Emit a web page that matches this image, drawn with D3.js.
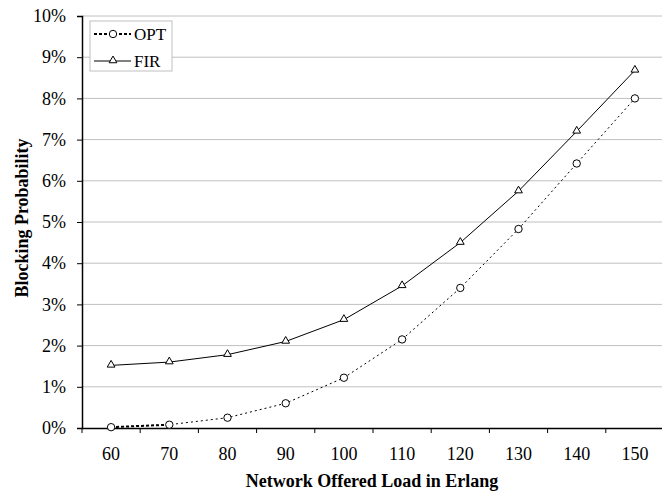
<!DOCTYPE html>
<html>
<head>
<meta charset="utf-8">
<script src="https://cdn.jsdelivr.net/npm/d3@7"></script>
<style>
body { margin: 0; background: #fff; }
svg { display: block; font-family: "Liberation Serif", "Times New Roman", serif; }
</style>
</head>
<body>
<svg id="chart" width="662" height="493"></svg>
<script>
var loads = [60, 70, 80, 90, 100, 110, 120, 130, 140, 150];
var opt = [0.0002, 0.0008, 0.0025, 0.006, 0.0122, 0.0215, 0.034, 0.0483, 0.0642, 0.080];
var fir = [0.0152, 0.016, 0.0178, 0.021, 0.0263, 0.0345, 0.045, 0.0575, 0.072, 0.0868];
var yTicks = d3.range(0, 0.1001, 0.01);

var svg = d3.select("#chart");
var plotLeft = 82, plotRight = 664, plotTop = 16, plotBottom = 428;

var x = d3.scaleBand().domain(loads).range([plotLeft, plotRight]);
var y = d3.scaleLinear().domain([0, 0.1]).range([plotBottom, plotTop]);
var cx = function(d) { return x(d) + x.bandwidth() / 2; };

// gridlines
svg.append("g")
	.selectAll("line")
	.data(yTicks.slice(1))
	.enter().append("line")
	.attr("x1", plotLeft).attr("x2", 662)
	.attr("y1", function(d) { return y(d); })
	.attr("y2", function(d) { return y(d); })
	.attr("stroke", "#c0c0c0")
	.attr("stroke-width", 1);

// y axis
var yAxis = svg.append("g")
	.attr("transform", "translate(" + plotLeft + ",0)")
	.call(d3.axisLeft(y).tickValues(yTicks).tickFormat(d3.format(".0%")).tickSize(5).tickPadding(11));
yAxis.select(".domain").attr("stroke", "#000").attr("stroke-width", 1.5);
yAxis.selectAll("text").attr("font-size", 18).attr("font-family", "Liberation Serif").attr("fill", "#000");

// x axis
var xAxis = svg.append("g")
	.attr("transform", "translate(0," + plotBottom + ")")
	.call(d3.axisBottom(x).tickSize(0).tickPadding(19));
xAxis.select(".domain").attr("stroke", "#000").attr("stroke-width", 1.5);
xAxis.selectAll("text").attr("font-size", 18).attr("font-family", "Liberation Serif").attr("fill", "#000");
// ticks between categories
xAxis.selectAll("line.sep")
	.data(loads)
	.enter().append("line")
	.attr("class", "sep")
	.attr("x1", function(d) { return x(d); })
	.attr("x2", function(d) { return x(d); })
	.attr("y1", 0).attr("y2", 5)
	.attr("stroke", "#000");

var line = d3.line()
	.x(function(d) { return cx(d[0]); })
	.y(function(d) { return y(d[1]); });

var optPts = loads.map(function(d, i) { return [d, opt[i]]; });
var firPts = loads.map(function(d, i) { return [d, fir[i]]; });

svg.append("path")
	.datum(firPts)
	.attr("d", line)
	.attr("fill", "none")
	.attr("stroke", "#000")
	.attr("stroke-width", 1);

svg.append("path")
	.datum(optPts)
	.attr("d", line)
	.attr("fill", "none")
	.attr("stroke", "#000")
	.attr("stroke-width", 1)
	.attr("stroke-dasharray", "2,3");

svg.append("path")
	.datum(optPts.slice(0, 2))
	.attr("d", line)
	.attr("fill", "none")
	.attr("stroke", "#000")
	.attr("stroke-width", 2)
	.attr("stroke-dasharray", "3,2");

var tri = d3.symbol().type(d3.symbolTriangle).size(26);

svg.append("g")
	.selectAll("path")
	.data(firPts)
	.enter().append("path")
	.attr("d", tri)
	.attr("transform", function(d) { return "translate(" + cx(d[0]) + "," + (y(d[1]) - 0.5) + ")"; })
	.attr("fill", "#fff")
	.attr("stroke", "#000");

svg.append("g")
	.selectAll("circle")
	.data(optPts)
	.enter().append("circle")
	.attr("cx", function(d) { return cx(d[0]); })
	.attr("cy", function(d) { return y(d[1]); })
	.attr("r", 3.7)
	.attr("fill", "#fff")
	.attr("stroke", "#000");

// legend
var lg = svg.append("g");
lg.append("rect")
	.attr("x", 90).attr("y", 21).attr("width", 82).attr("height", 50)
	.attr("fill", "#fff").attr("stroke", "#c0c0c0");
lg.append("line")
	.attr("x1", 94).attr("x2", 131).attr("y1", 34).attr("y2", 34)
	.attr("stroke", "#000").attr("stroke-width", 2).attr("stroke-dasharray", "3,2");
lg.append("circle")
	.attr("cx", 113).attr("cy", 34).attr("r", 3.7)
	.attr("fill", "#fff").attr("stroke", "#000");
lg.append("text")
	.attr("x", 134).attr("y", 40).attr("font-size", 17).text("OPT");
lg.append("line")
	.attr("x1", 94).attr("x2", 131).attr("y1", 61).attr("y2", 61)
	.attr("stroke", "#000");
lg.append("path")
	.attr("d", tri)
	.attr("transform", "translate(113,60.5)")
	.attr("fill", "#fff").attr("stroke", "#000");
lg.append("text")
	.attr("x", 134).attr("y", 67).attr("font-size", 17).text("FIR");

// axis titles
svg.append("text")
	.attr("x", 372).attr("y", 487)
	.attr("text-anchor", "middle")
	.attr("font-size", 18).attr("font-weight", "bold")
	.text("Network Offered Load in Erlang");

svg.append("text")
	.attr("transform", "translate(28,218) rotate(-90)")
	.attr("text-anchor", "middle")
	.attr("font-size", 18).attr("font-weight", "bold")
	.text("Blocking Probability");
</script>
</body>
</html>
